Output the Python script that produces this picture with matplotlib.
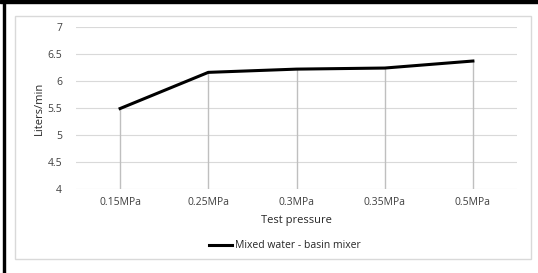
import matplotlib.pyplot as plt
from matplotlib.patches import Rectangle

pressures = ['0.15MPa', '0.25MPa', '0.3MPa', '0.35MPa', '0.5MPa']
flow = [5.49, 6.16, 6.22, 6.24, 6.37]
yticks = [4, 4.5, 5, 5.5, 6, 6.5, 7]
ytick_labels = ['4', '4.5', '5', '5.5', '6', '6.5', '7']

W, H = 538, 273
fig = plt.figure(figsize=(W/100, H/100), dpi=100)
plt.rcParams['font.family'] = ['Open Sans', 'DejaVu Sans']

# frame pieces (black edge on top/left, light gray chart border)
fig.patches.append(Rectangle((0, 1 - 3/H), 1, 3/H, transform=fig.transFigure, color='black', zorder=0))
fig.patches.append(Rectangle((3/W, 0), 2/W, 1, transform=fig.transFigure, color='black', zorder=0))
fig.patches.append(Rectangle((14.5/W, 1 - 258.5/H), 516/W, 243/H, transform=fig.transFigure,
                             fill=False, edgecolor='#d9d9d9', linewidth=1, zorder=0))

ax = fig.add_axes([76/W, 1 - 189/H, 441/W, 162/H])
x = list(range(len(pressures)))
ax.set_xlim(-0.5, len(pressures) - 0.5)
ax.set_ylim(4, 7)
for xi, v in zip(x, flow):
    ax.plot([xi, xi], [4, v], color='#bfbfbf', linewidth=1, zorder=1)
ax.plot(x, flow, color='black', linewidth=2.2, label='Mixed water - basin mixer', zorder=3)

ax.set_yticks(yticks)
ax.set_yticklabels(ytick_labels)
ax.set_xticks(x)
ax.set_xticklabels(pressures)
ax.grid(axis='y', color='#d9d9d9', linewidth=0.8)
ax.set_axisbelow(True)
for s in ax.spines.values():
    s.set_visible(False)
ax.tick_params(length=0, labelsize=7.5, colors='#404040', pad=6)
ax.tick_params(axis='y', pad=10)
ax.set_xlabel('Test pressure', fontsize=8, color='#262626', labelpad=5)
ax.set_ylabel('Liters/min', fontsize=8, color='#262626', labelpad=2)

fig.legend(loc='center', bbox_to_anchor=(285/W, 1 - 246/H), frameon=False, fontsize=7.5,
           handlelength=2.2, handletextpad=0.3, labelcolor='#262626')

fig.savefig('out.png', dpi=100)
